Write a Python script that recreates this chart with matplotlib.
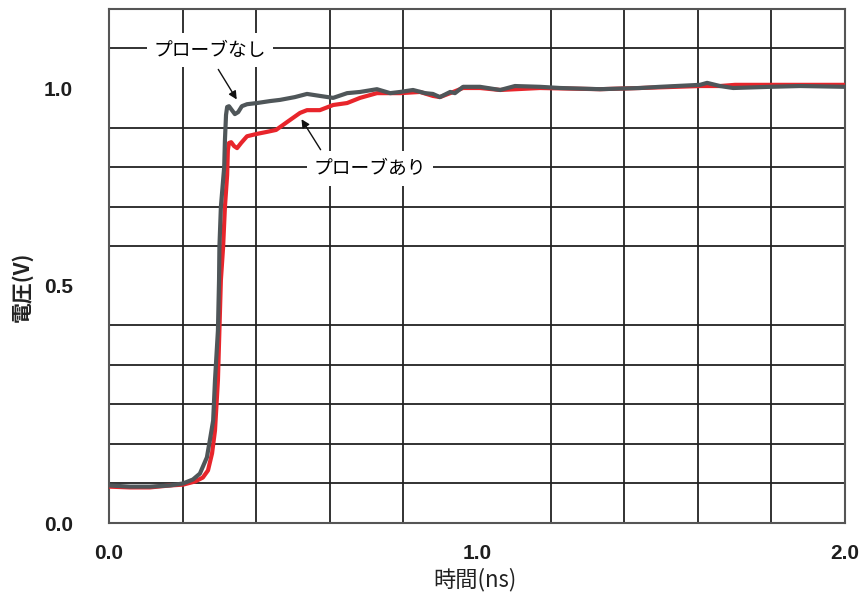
import matplotlib
matplotlib.use("Agg")
import matplotlib.pyplot as plt
import numpy as np

plt.rcParams['font.family'] = ['Noto Sans CJK JP', 'DejaVu Sans']

# probe-less trace (gray), time in ns, voltage in V
t_noprobe = [0.000, 0.057, 0.111, 0.166, 0.201, 0.228, 0.247, 0.266, 0.274, 0.283,
             0.288, 0.296, 0.299, 0.300, 0.304, 0.313, 0.315, 0.318, 0.321, 0.326,
             0.334, 0.342, 0.351, 0.361, 0.375, 0.402, 0.438, 0.465, 0.505, 0.538,
             0.573, 0.609, 0.647, 0.682, 0.728, 0.764, 0.791, 0.826, 0.859, 0.880,
             0.899, 0.927, 0.940, 0.962, 1.008, 1.063, 1.103, 1.171, 1.226, 1.334,
             1.443, 1.497, 1.606, 1.625, 1.660, 1.696, 1.796, 1.878, 2.000]
v_noprobe = [-0.005, -0.008, -0.008, -0.005, 0.000, 0.010, 0.025, 0.066, 0.109, 0.159,
             0.261, 0.387, 0.514, 0.597, 0.699, 0.800, 0.868, 0.932, 0.952, 0.954,
             0.944, 0.934, 0.939, 0.954, 0.959, 0.962, 0.967, 0.970, 0.977, 0.985,
             0.980, 0.975, 0.987, 0.990, 0.997, 0.987, 0.990, 0.995, 0.987, 0.985,
             0.977, 0.990, 0.987, 1.003, 1.003, 0.995, 1.005, 1.003, 1.000, 0.997,
             1.000, 1.003, 1.008, 1.013, 1.005, 1.000, 1.003, 1.005, 1.003]

# trace with probe attached (red)
t_probe = [0.000, 0.057, 0.111, 0.166, 0.201, 0.234, 0.255, 0.269, 0.280, 0.288,
           0.296, 0.304, 0.310, 0.315, 0.321, 0.323, 0.326, 0.332, 0.340, 0.348,
           0.359, 0.375, 0.402, 0.429, 0.454, 0.484, 0.519, 0.538, 0.573, 0.609,
           0.647, 0.682, 0.728, 0.791, 0.845, 0.880, 0.899, 0.927, 0.962, 1.008,
           1.063, 1.171, 1.334, 1.443, 1.606, 1.660, 1.701, 1.796, 1.878, 2.000]
v_probe = [-0.008, -0.010, -0.010, -0.005, -0.003, 0.005, 0.015, 0.033, 0.076, 0.134,
           0.261, 0.514, 0.597, 0.699, 0.780, 0.843, 0.861, 0.863, 0.853, 0.848,
           0.861, 0.878, 0.884, 0.889, 0.894, 0.914, 0.937, 0.944, 0.944, 0.957,
           0.962, 0.975, 0.987, 0.987, 0.990, 0.980, 0.977, 0.987, 1.000, 1.000,
           0.995, 1.000, 0.997, 1.000, 1.005, 1.005, 1.008, 1.008, 1.008, 1.008]

label_noprobe = 'プローブなし'
label_probe = 'プローブあり'

fig = plt.figure(figsize=(8.65, 5.94), dpi=100)
ax = fig.add_axes([0.126, 0.1195, 0.851, 0.8655])

ax.plot(t_probe, v_probe, color='#e8252b', lw=3, solid_capstyle='round', zorder=3)
ax.plot(t_noprobe, v_noprobe, color='#4f5659', lw=3, solid_capstyle='round', zorder=4)

ax.set_xlim(0, 2.0)
ax.set_ylim(-0.1, 1.2)
ax.set_xticks(np.arange(0, 2.01, 0.2), minor=True)
ax.set_yticks(np.arange(-0.1, 1.21, 0.1), minor=True)
ax.grid(which='minor', color='#222222', lw=1.3)
ax.set_xticks([0.0, 1.0, 2.0])
ax.set_xticklabels(['0.0', '1.0', '2.0'])
# the original places its "0.0" label at the bottom edge of the frame
ax.set_yticks([-0.1, 0.5, 1.0])
ax.set_yticklabels(['0.0', '0.5', '1.0'])
ax.tick_params(which='both', length=0)
ax.tick_params(axis='x', pad=15)
ax.tick_params(axis='y', pad=26)
for lab in ax.get_xticklabels() + ax.get_yticklabels():
    lab.set_family(['Liberation Sans', 'DejaVu Sans'])
    lab.set_fontweight('bold')
    lab.set_fontsize(15)
    lab.set_color('#1e1e1e')
for s in ax.spines.values():
    s.set_color('#555555')
    s.set_linewidth(1.5)

fig.text(475 / 865, 1 - 580 / 594, '時間(ns)', fontsize=16, ha='center', va='center', color='#222222')
fig.text(22 / 865, 1 - 287 / 594, '電圧(V)', fontsize=15, fontweight='bold', rotation=90,
         ha='center', va='center', color='#222222')

# callouts
box = dict(facecolor='white', edgecolor='none', pad=5)
ax.text(0.274, 1.096, label_noprobe, fontsize=13.5, ha='center', va='center', bbox=box, zorder=5)
ax.annotate('', xy=(0.351, 0.965), xytext=(0.293, 1.053),
            arrowprops=dict(arrowstyle='-|>', color='#111111', lw=1, mutation_scale=12), zorder=5)
ax.text(0.709, 0.797, label_probe, fontsize=13.5, ha='center', va='center', bbox=box, zorder=5)
ax.annotate('', xy=(0.519, 0.927), xytext=(0.579, 0.838),
            arrowprops=dict(arrowstyle='-|>', color='#111111', lw=1, mutation_scale=12), zorder=5)

fig.savefig('out.png', dpi=100)
